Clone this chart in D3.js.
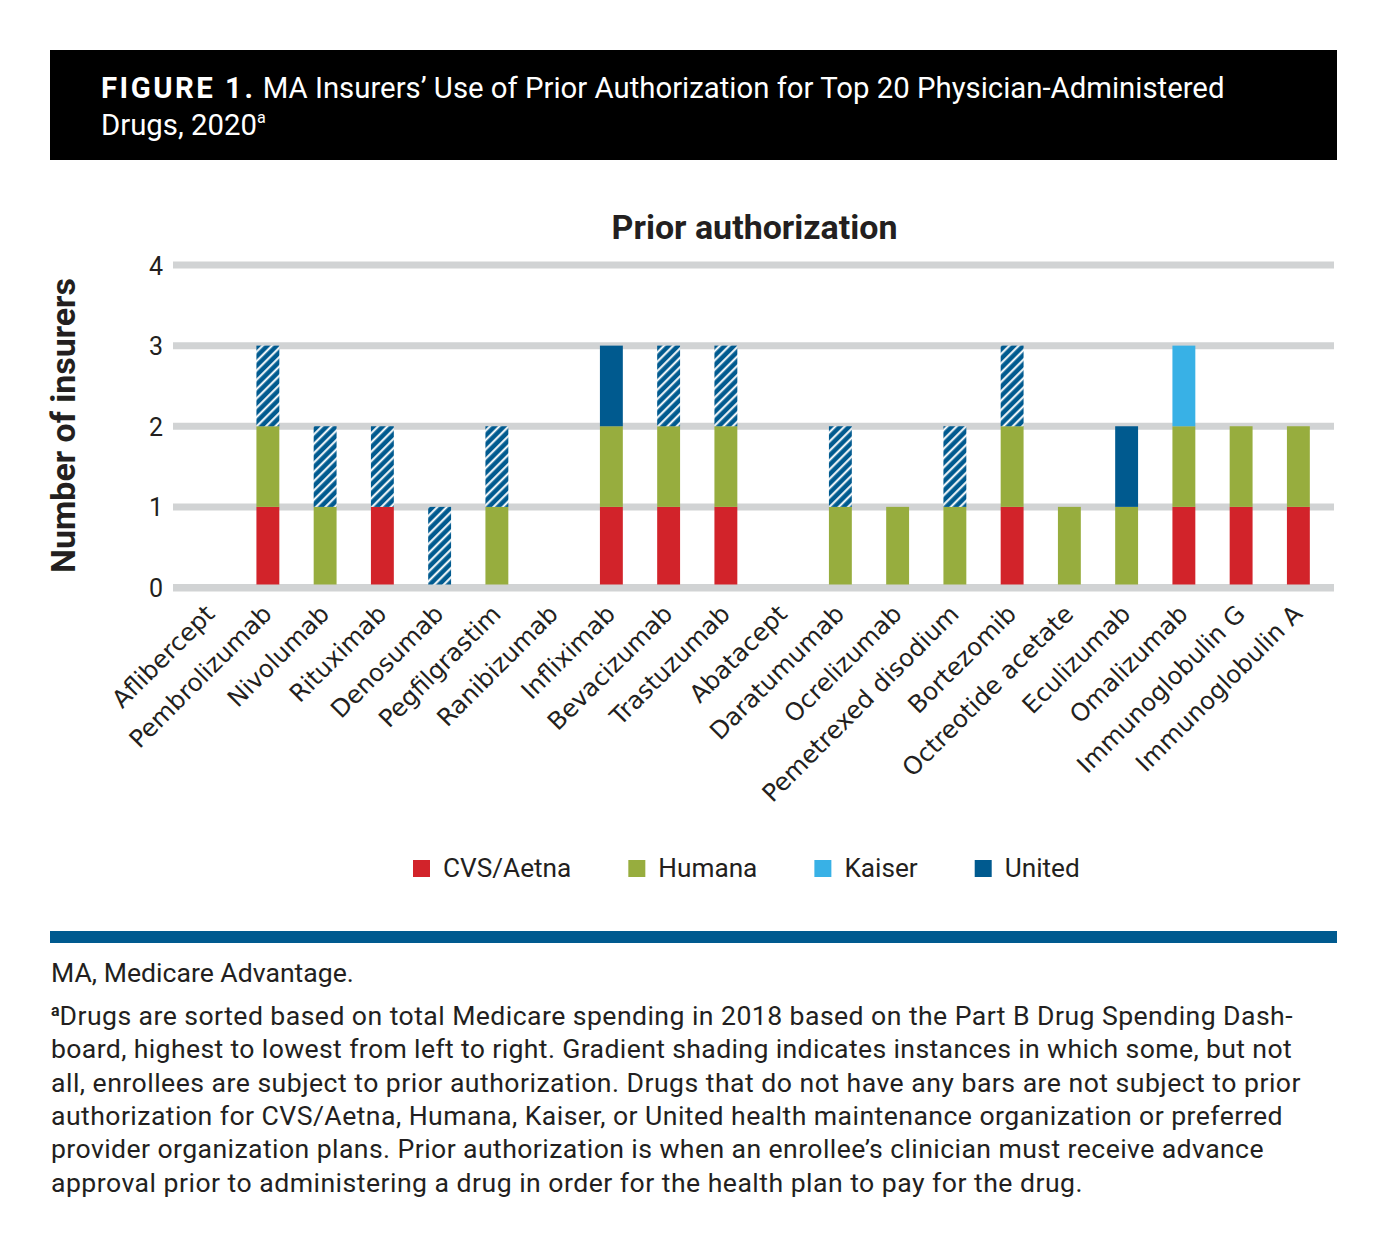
<!DOCTYPE html>
<html><head><meta charset="utf-8">
<script src="https://cdn.jsdelivr.net/npm/d3@7"></script>
<style>body{margin:0;background:#fff} svg{display:block}</style>
</head><body>
<svg id="chart" width="1387" height="1258"></svg>
<script>
// ---------- data ----------
const drugs = ["Aflibercept","Pembrolizumab","Nivolumab","Rituximab","Denosumab","Pegfilgrastim","Ranibizumab","Infliximab","Bevacizumab","Trastuzumab","Abatacept","Daratumumab","Ocrelizumab","Pemetrexed disodium","Bortezomib","Octreotide acetate","Eculizumab","Omalizumab","Immunoglobulin G","Immunoglobulin A"];
const cvsAetna   = [0,1,0,1,0,0,0,1,1,1,0,0,0,0,1,0,0,1,1,1];
const humana     = [0,1,1,0,0,1,0,1,1,1,0,1,1,1,1,1,1,1,1,1];
const kaiser     = [0,0,0,0,0,0,0,0,0,0,0,0,0,0,0,0,0,1,0,0];
const unitedAll  = [0,0,0,0,0,0,0,1,0,0,0,0,0,0,0,0,1,0,0,0];
const unitedSome = [0,1,1,1,1,1,0,0,1,1,0,1,0,1,1,0,0,0,0,0];
const yTicks = [0,1,2,3,4];
const legendNames = ["CVS/Aetna","Humana","Kaiser","United"];

const titleLine1Bold = "FIGURE 1.";
const titleLine1 = " MA Insurers\u2019 Use of Prior Authorization for Top 20 Physician-Administered";
const titleLine2 = "Drugs, 2020";
const chartTitle = "Prior authorization";
const yTitle = "Number of insurers";
const abbrevNote = "MA, Medicare Advantage.";
const footLines = [
  "Drugs are sorted based on total Medicare spending in 2018 based on the Part B Drug Spending Dash-",
  "board, highest to lowest from left to right. Gradient shading indicates instances in which some, but not",
  "all, enrollees are subject to prior authorization. Drugs that do not have any bars are not subject to prior",
  "authorization for CVS/Aetna, Humana, Kaiser, or United health maintenance organization or preferred",
  "provider organization plans. Prior authorization is when an enrollee\u2019s clinician must receive advance",
  "approval prior to administering a drug in order for the health plan to pay for the drug."
];

// ---------- styles / layout ----------
const C = {cvs:"#d2232a", humana:"#97ad3e", kaiser:"#38b1e6", united:"#005a8f", grid:"#d1d3d4", text:"#231f20"};
const DIN = "Roboto, 'Noto Sans', sans-serif";
const footLineEnds = [1293, 1292, 1301, 1283, 1264, 1083];

const svg = d3.select("#chart");

function fitWidth(sel, target){
  const w = sel.node().getComputedTextLength();
  const fs = parseFloat(sel.attr("font-size"));
  const nf = fs*target/w;
  sel.attr("font-size", nf);
  return nf;
}
function spreadTo(sel, target){
  const w = sel.node().getComputedTextLength();
  const n = sel.text().length;
  sel.attr("letter-spacing", (target - w)/n);
}

// ---------- header ----------
svg.append("rect").attr("x",50).attr("y",50).attr("width",1287).attr("height",110).attr("fill","#000");
const h1 = svg.append("text").attr("x",101).attr("y",98).attr("font-family",DIN).attr("font-size",28).attr("fill","#fff");
h1.append("tspan").attr("font-weight",700).attr("letter-spacing",2.5).text(titleLine1Bold);
h1.append("tspan").text(titleLine1);
const hfs = fitWidth(h1, 1125);
const h2 = svg.append("text").attr("x",101).attr("y",135).attr("font-family",DIN).attr("font-size",hfs).attr("fill","#fff");
h2.append("tspan").text(titleLine2);
h2.append("tspan").attr("font-size",hfs*0.55).attr("dy",-hfs*0.42).text("a");

// ---------- scales ----------
const x = d3.scaleBand().domain(drugs).range([182,1327]).paddingInner(0.6).paddingOuter(0.3);
const y = d3.scaleLinear().domain([0,4]).range([587.5,265]);

// chart title
const ct = svg.append("text").attr("x",754.5).attr("y",239).attr("text-anchor","middle")
  .attr("font-family",DIN).attr("font-weight",700).attr("font-size",30).attr("fill",C.text).text(chartTitle);
fitWidth(ct, 286);

// y title
const yt = svg.append("text").attr("transform","translate(75,425.5) rotate(-90)").attr("text-anchor","middle")
  .attr("font-family",DIN).attr("font-weight",700).attr("font-size",30).attr("fill",C.text).text(yTitle);
fitWidth(yt, 295);

// gridlines
svg.append("g").selectAll("line").data(yTicks).join("line")
  .attr("x1",173).attr("x2",1334).attr("y1",d=>y(d)).attr("y2",d=>y(d))
  .attr("stroke",C.grid).attr("stroke-width",7);

// y axis labels
const yAxis = svg.append("g").attr("transform","translate(173,0)")
  .call(d3.axisLeft(y).tickValues(yTicks).tickSize(0).tickPadding(10).tickFormat(d3.format("d")));
yAxis.select(".domain").remove();
yAxis.selectAll("text").attr("font-family",DIN).attr("font-size",25).attr("fill",C.text).attr("dy","0.36em");

// hatch pattern
const defs = svg.append("defs");
const pat = defs.append("pattern").attr("id","hatch").attr("patternUnits","userSpaceOnUse")
  .attr("width",6.6).attr("height",6.6).attr("patternTransform","rotate(45)");
pat.append("rect").attr("width",6.6).attr("height",6.6).attr("fill",C.united);
pat.append("line").attr("x1",1.2).attr("x2",1.2).attr("y1",-1).attr("y2",8).attr("stroke","#fff").attr("stroke-width",2);

// bars
const table = drugs.map((d,i)=>({drug:d, cvs:cvsAetna[i], humana:humana[i], kaiser:kaiser[i], unitedAll:unitedAll[i], unitedSome:unitedSome[i]}));
const keys = ["cvs","humana","kaiser","unitedAll","unitedSome"];
const fills = {cvs:C.cvs, humana:C.humana, kaiser:C.kaiser, unitedAll:C.united, unitedSome:"url(#hatch)"};
const stacked = d3.stack().keys(keys)(table);
svg.append("g").selectAll("g").data(stacked).join("g").attr("fill",s=>fills[s.key])
  .selectAll("rect").data(s=>s.filter(d=>d[1]>d[0])).join("rect")
  .attr("x",d=>x(d.data.drug)).attr("width",x.bandwidth())
  .attr("y",d=>y(d[1])).attr("height",d=>y(d[0])-y(d[1]));

// zero line over bar bottoms
svg.append("line").attr("x1",173).attr("x2",1334).attr("y1",y(0)+0.5).attr("y2",y(0)+0.5)
  .attr("stroke",C.grid).attr("stroke-width",7);

// x axis labels
const xAxis = svg.append("g").attr("transform",`translate(0,${y(0)})`)
  .call(d3.axisBottom(x).tickSize(0));
xAxis.select(".domain").remove();
xAxis.selectAll("text").attr("x",0).attr("y",0).attr("dy",0)
  .attr("text-anchor","end").attr("transform","translate(5.5,28) rotate(-45)")
  .attr("font-family","'DejaVu Sans', Verdana, sans-serif").attr("font-size",24.5).attr("fill",C.text);

// legend
const legColors = [C.cvs, C.humana, C.kaiser, C.united];
const legG = svg.append("g");
const legTexts = legendNames.map(name => legG.append("text").attr("y",877).attr("font-family",DIN)
  .attr("font-size",25).attr("fill",C.text).text(name));
const legTotal = d3.sum(legTexts, t=>t.node().getComputedTextLength());
const lfs = 25*376/legTotal;
let lx = 413;
legTexts.forEach((t,i)=>{
  t.attr("font-size",lfs).attr("x",lx+30);
  legG.append("rect").attr("x",lx).attr("y",860).attr("width",17).attr("height",17).attr("fill",legColors[i]);
  lx = lx + 30 + t.node().getComputedTextLength() + 57;
});

// blue rule
svg.append("rect").attr("x",50).attr("y",931).attr("width",1287).attr("height",12).attr("fill",C.united);

// footnotes
const ma = svg.append("text").attr("x",51).attr("y",982).attr("font-family",DIN).attr("font-size",24).attr("fill",C.text).text(abbrevNote);
const ffs = fitWidth(ma, 303);
const fl = svg.append("g");
footLines.forEach((line,i)=>{
  const t = fl.append("text").attr("x",51).attr("y",1025+i*33.3).attr("font-family",DIN).attr("font-size",ffs).attr("fill",C.text);
  if(i===0){
    const sup = t.append("tspan").attr("font-weight",700).attr("font-size",ffs*0.6).attr("dy",-ffs*0.35).text("a");
    const body = t.append("tspan").attr("dy",ffs*0.35).text(line);
    const supW = sup.node().getComputedTextLength();
    const w = body.node().getComputedTextLength();
    body.attr("letter-spacing",(footLineEnds[i]-51-supW-w)/line.length);
  } else {
    t.text(line);
    spreadTo(t, footLineEnds[i]-51);
  }
});
</script>
</body></html>
